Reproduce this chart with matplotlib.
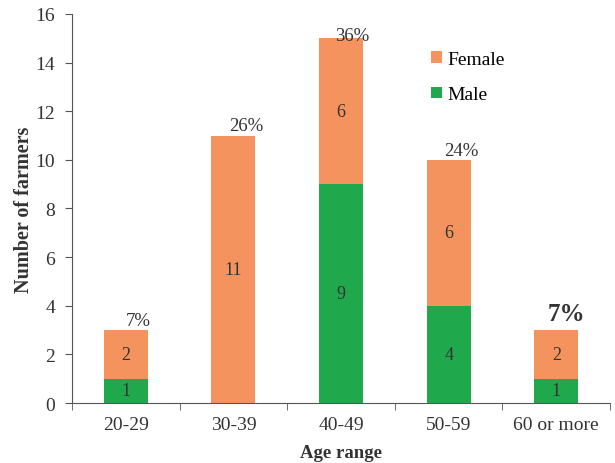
import numpy as np
import matplotlib.pyplot as plt

plt.rcParams['font.family'] = ['Liberation Serif', 'DejaVu Serif']

ages = ["20-29", "30-39", "40-49", "50-59", "60 or more"]
male = [1, 0, 9, 4, 1]
female = [2, 11, 6, 6, 2]
pct = ["7%", "26%", "36%", "24%", "7%"]

c_fem = "#F5935F"
c_male = "#20A84C"
txt = "#333333"

fig = plt.figure(figsize=(6.15, 4.64), dpi=100)
ax = fig.add_axes([0.117, 0.129, 0.875, 0.839])

x = np.arange(len(ages))
w = 0.41
ax.bar(x, male, w, color=c_male, label="Male")
ax.bar(x, female, w, bottom=male, color=c_fem, label="Female")

for i in range(len(ages)):
    if male[i]:
        ax.text(x[i], male[i] / 2, str(male[i]), ha="center", va="center",
                fontsize=13, color=txt)
    if female[i]:
        ax.text(x[i], male[i] + female[i] / 2, str(female[i]), ha="center",
                va="center", fontsize=13, color=txt)
    tot = male[i] + female[i]
    if i == 4:
        ax.text(x[i] + 0.09, tot + 0.2, pct[i], ha="center", va="bottom",
                fontsize=18, fontweight="bold", color=txt)
    elif i == 2:
        ax.text(x[i] + 0.1, tot - 0.25, pct[i], ha="center", va="bottom",
                fontsize=13.5, color=txt)
    else:
        ax.text(x[i] + 0.12, tot + 0.05, pct[i], ha="center", va="bottom",
                fontsize=13.5, color=txt)

ax.set_xlim(-0.5, len(ages) - 0.5)
ax.set_ylim(0, 16)
ax.set_yticks(range(0, 17, 2))
ax.set_xticks(x)
ax.set_xticklabels(ages)
ax.set_xticks(np.arange(-0.5, len(ages)), minor=True)
ax.tick_params(axis="x", which="major", length=0, pad=9, labelsize=14, colors=txt)
ax.tick_params(axis="x", which="minor", length=5, direction="out", color="#555555")
ax.tick_params(axis="y", length=5, direction="out", pad=7, labelsize=14,
               colors=txt, color="#555555")

for s in ["top", "right"]:
    ax.spines[s].set_visible(False)
for s in ["left", "bottom"]:
    ax.spines[s].set_color("#555555")

ax.set_xlabel("Age range", fontsize=13.5, fontweight="bold", color=txt)
ax.set_ylabel("Number of farmers", fontsize=14.5, fontweight="bold", color=txt)
ax.xaxis.set_label_coords(0.5, -0.104)
ax.yaxis.set_label_coords(-0.071, 0.5)

h, l = ax.get_legend_handles_labels()
ax.legend(h[::-1], l[::-1], loc="upper left", bbox_to_anchor=(0.65, 0.93),
          frameon=False, fontsize=14, handlelength=0.55, handleheight=0.55,
          handletextpad=0.25, labelspacing=0.95, borderpad=0)

fig.savefig("out.png", dpi=100)
